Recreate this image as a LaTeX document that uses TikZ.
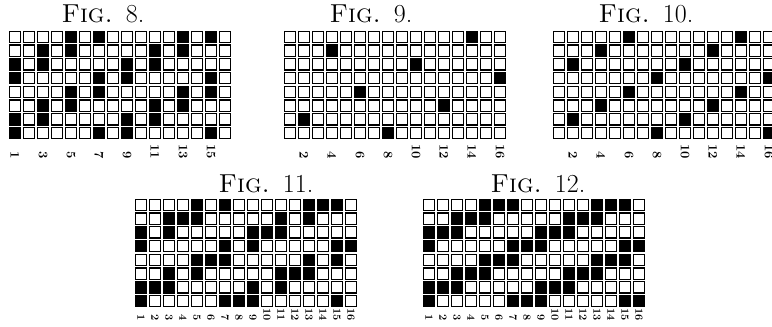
\documentclass[tikz,border=0pt]{standalone}
\usetikzlibrary{positioning}
% black cells as row/column pairs
\newcommand\eightcells{1/5,1/7,1/13,1/15,2/3,2/5,2/11,2/13,3/1,3/3,3/9,3/11,4/1,4/7,4/9,4/15,5/5,5/7,5/13,5/15,6/3,6/5,6/11,6/13,7/1,7/3,7/9,7/11,8/1,8/7,8/9,8/15}
\newcommand\ninecells{1/14,2/4,3/10,4/16,5/6,6/12,7/2,8/8}
\newcommand\tencells{1/6,1/14,2/4,2/12,3/2,3/10,4/8,4/16,5/6,5/14,6/4,6/12,7/2,7/10,8/8,8/16}
\begin{document}
\begin{tikzpicture}[x=1pt,y=1pt,
 sq/.style={draw,line width=1.1pt},
 dark/.style={sq,fill=black},
 caption/.style={font=\fontsize{26}{26}\selectfont,anchor=base},
 num/.style={font=\fontsize{13}{13}\selectfont\bfseries,rotate=-90,anchor=east,inner sep=0pt},
 smallnum/.style={num,font=\fontsize{11}{11}\selectfont\bfseries}]
\clip (0,0) rectangle (772,327);
% Fig. 8
\node[caption] (cap8) at (103,304) {\textsc{Fig.}\hspace{.5em}8.};
\begin{scope}[shift={(8,297)}]
\foreach \c in {1,...,16} \foreach \r in {1,...,8}
  \draw[sq] ({14*\c-12.75},{-13.75*\r+1.25}) rectangle ++(11.5,11.25);
\foreach \r/\c in \eightcells
  \draw[dark] ({14*\c-12.75},{-13.75*\r+1.25}) rectangle ++(11.5,11.25);
\foreach \c in {1,3,...,15}
  \node[num] (n8-\c) at ({14*\c-7},-129) {\c};
\end{scope}
% Fig. 9
\node[caption] (cap9) at (371,304) {\textsc{Fig.}\hspace{.5em}9.};
\begin{scope}[shift={(283,297)}]
\foreach \c in {1,...,16} \foreach \r in {1,...,8}
  \draw[sq] ({14*\c-12.75},{-13.75*\r+1.25}) rectangle ++(11.5,11.25);
\foreach \r/\c in \ninecells
  \draw[dark] ({14*\c-12.75},{-13.75*\r+1.25}) rectangle ++(11.5,11.25);
\foreach \c in {2,4,...,16}
  \node[num] (n9-\c) at ({14*\c-7},-129) {\c};
\end{scope}
% Fig. 10
\node[caption] (cap10) at (646,304) {\textsc{Fig.}\hspace{.5em}10.};
\begin{scope}[shift={(552,297)}]
\foreach \c in {1,...,16} \foreach \r in {1,...,8}
  \draw[sq] ({14*\c-12.75},{-13.75*\r+1.25}) rectangle ++(11.5,11.25);
\foreach \r/\c in \tencells
  \draw[dark] ({14*\c-12.75},{-13.75*\r+1.25}) rectangle ++(11.5,11.25);
\foreach \c in {2,4,...,16}
  \node[num] (n10-\c) at ({14*\c-7},-129) {\c};
\end{scope}
% Fig. 11 = Fig. 8 + Fig. 9
\node[caption] (cap11) at (266,134) {\textsc{Fig.}\hspace{.5em}11.};
\begin{scope}[shift={(134,129)}]
\foreach \c in {1,...,16} \foreach \r in {1,...,8}
  \draw[sq] ({14*\c-12.75},{-13.75*\r+1.25}) rectangle ++(11.5,11.25);
\foreach \r/\c in \eightcells
  \draw[dark] ({14*\c-12.75},{-13.75*\r+1.25}) rectangle ++(11.5,11.25);
\foreach \r/\c in \ninecells
  \draw[dark] ({14*\c-12.75},{-13.75*\r+1.25}) rectangle ++(11.5,11.25);
\foreach \c in {1,...,16}
  \node[smallnum] (n11-\c) at ({14*\c-7},-123) {\c};
\end{scope}
% Fig. 12 = Fig. 8 + Fig. 10
\node[caption] (cap12) at (538,134) {\textsc{Fig.}\hspace{.5em}12.};
\begin{scope}[shift={(422,129)}]
\foreach \c in {1,...,16} \foreach \r in {1,...,8}
  \draw[sq] ({14*\c-12.75},{-13.75*\r+1.25}) rectangle ++(11.5,11.25);
\foreach \r/\c in \eightcells
  \draw[dark] ({14*\c-12.75},{-13.75*\r+1.25}) rectangle ++(11.5,11.25);
\foreach \r/\c in \tencells
  \draw[dark] ({14*\c-12.75},{-13.75*\r+1.25}) rectangle ++(11.5,11.25);
\foreach \c in {1,...,16}
  \node[smallnum] (n12-\c) at ({14*\c-7},-123) {\c};
\end{scope}
\end{tikzpicture}
\end{document}
